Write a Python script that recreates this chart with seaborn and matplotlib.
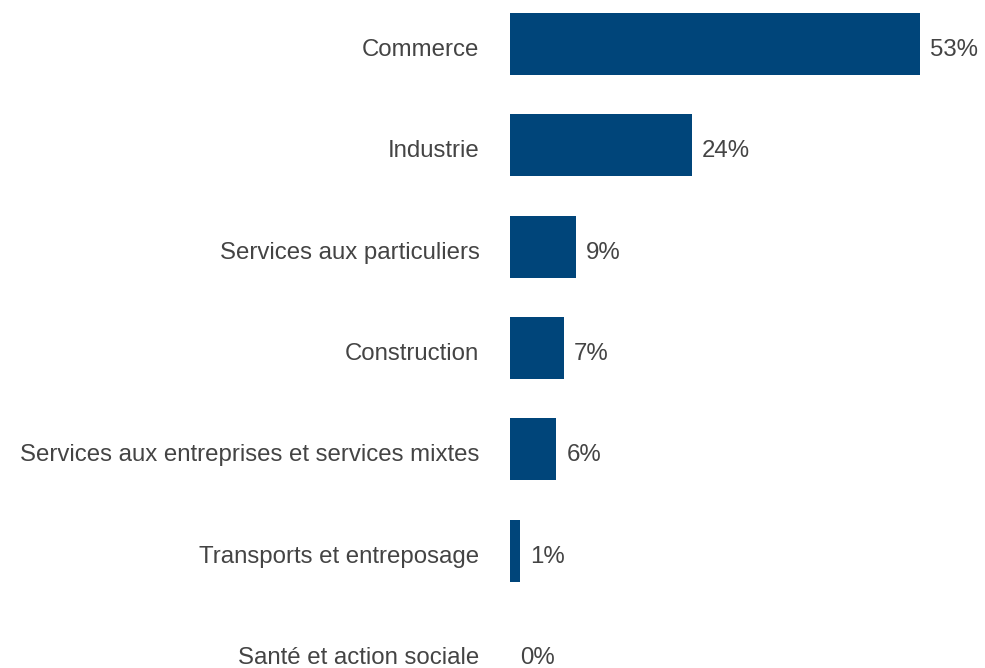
import pandas as pd
import seaborn as sns
import matplotlib.pyplot as plt
from matplotlib.transforms import ScaledTranslation

# données
secteurs = [
    "Commerce",
    "Industrie",
    "Services aux particuliers",
    "Construction",
    "Services aux entreprises et services mixtes",
    "Transports et entreposage",
    "Santé et action sociale",
]
parts = [53, 23.5, 8.5, 7, 6, 1.3, 0]
etiquettes = ["53%", "24%", "9%", "7%", "6%", "1%", "0%"]

df = pd.DataFrame({"secteur": secteurs, "part": parts})

sns.set_theme(style="white")
plt.rcParams["font.family"] = ["Liberation Sans", "DejaVu Sans"]

fig = plt.figure(figsize=(9.85, 6.68), dpi=100)
ax = fig.add_axes([510 / 985, 0, 1 - 510 / 985, 1])

sns.barplot(data=df, x="part", y="secteur", color="#00457a", width=0.61,
            saturation=1, linewidth=0, ax=ax)

ax.set_xlim(0, 61.4)
ax.set_ylim(6.158, -0.434)

# léger décalage vers le bas des textes (comme sur l'original)
decal = ScaledTranslation(0, -0.035, fig.dpi_scale_trans)

for i, (v, lab) in enumerate(zip(parts, etiquettes)):
    ax.text(v + 1.3, i, lab, va="center_baseline", ha="left",
            fontsize=17.3, color="#444444", transform=ax.transData + decal)

ax.set_xlabel("")
ax.set_ylabel("")
ax.set_xticks([])
ax.tick_params(axis="y", length=0, pad=22)
ax.set_yticks(range(len(secteurs)))
ax.set_yticklabels(secteurs, fontsize=17.3, color="#444444")
for t in ax.get_yticklabels():
    t.set_transform(t.get_transform() + decal)
sns.despine(ax=ax, left=True, bottom=True)

plt.savefig("out.png", dpi=100)
